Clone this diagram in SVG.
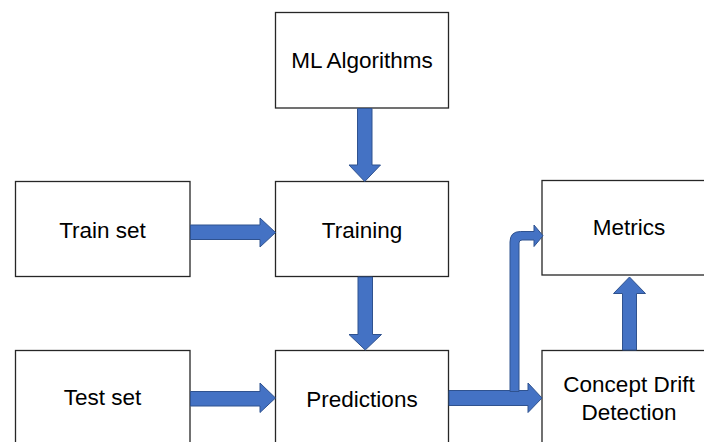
<svg xmlns="http://www.w3.org/2000/svg" width="704" height="442" viewBox="0 0 704 442">
<style>
.box{fill:#fff;stroke:#262626;stroke-width:1.3}
.lbl{font-family:"Liberation Sans",Arial,sans-serif;font-size:22.5px;fill:#000;text-anchor:middle}
.arr{fill:#4472C4;stroke:#2F528F;stroke-width:1}
</style>
<rect width="704" height="442" fill="#fff"/>
<g id="ml"><rect class="box" x="275.5" y="12.5" width="173" height="95.5"/><text class="lbl" x="362" y="68">ML Algorithms</text></g>
<g id="trainset"><rect class="box" x="15.5" y="181.5" width="174.5" height="95"/><text class="lbl" x="102.5" y="238">Train set</text></g>
<g id="training"><rect class="box" x="275.5" y="181.5" width="173" height="95"/><text class="lbl" x="362" y="238">Training</text></g>
<g id="metrics"><rect class="box" x="542" y="180.5" width="180" height="94.5"/><text class="lbl" x="629" y="235">Metrics</text></g>
<g id="testset"><rect class="box" x="15.5" y="350.5" width="174.5" height="110"/><text class="lbl" x="102.5" y="405">Test set</text></g>
<g id="predictions"><rect class="box" x="275.5" y="350.5" width="173" height="110"/><text class="lbl" x="362" y="406.5">Predictions</text></g>
<g id="drift"><rect class="box" x="542" y="350.5" width="180" height="110"/><text class="lbl" x="629" y="391.5">Concept Drift</text><text class="lbl" x="629" y="420">Detection</text></g>
<g id="connectors">
<path class="arr" d="M357.5,108.5 H372 V165 H380.5 L364.75,181.5 L349,165 H357.5 Z"/>
<path class="arr" d="M358,277 H372.5 V334.5 H381.5 L365.25,350 L349,334.5 H358 Z"/>
<path class="arr" d="M190.5,225 H260 V218 L275.5,232.5 L260,247 V239.5 H190.5 Z"/>
<path class="arr" d="M190.5,391.5 H260 V383 L275.5,398 L260,412.5 V406 H190.5 Z"/>
<path class="arr" d="M449,390.5 H528 V383 L542,398 L528,412.5 V405.5 H449 Z"/>
<path class="arr" d="M510,391.5 V242 Q510,231.5 520.5,231.5 H534 V225 L543,235.75 L534,246.5 V240 H522 Q519,240 519,243 V391.5 Z"/>
<path class="arr" d="M622.5,350 V293.5 H613.5 L629.5,277 L645.5,293.5 H636.5 V350 Z"/>
</g>
</svg>
